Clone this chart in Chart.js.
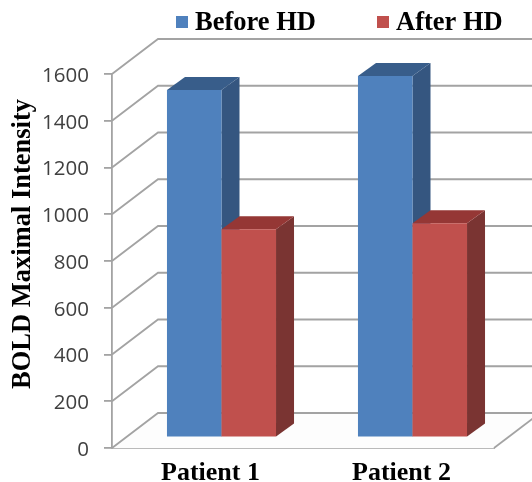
<!DOCTYPE html>
<html>
<head>
<meta charset="utf-8">
<title>BOLD Maximal Intensity</title>
<script src="https://cdn.jsdelivr.net/npm/chart.js@4"></script>
<style>
    html, body { margin: 0; padding: 0; background: #ffffff; }
    canvas { display: block; }
</style>
</head>
<body>
<canvas id="bold-chart" width="532" height="482"></canvas>
<script>
/* ---- data ---- */
const categories = ["Patient 1", "Patient 2"];
const beforeHD = [1487, 1547];
const afterHD = [891, 917];
const yTicks = [0, 200, 400, 600, 800, 1000, 1200, 1400, 1600];
const seriesNames = ["Before HD", "After HD"];
const yTitle = "BOLD Maximal Intensity";

/* ---- styles ---- */
const SERIF = "'Liberation Serif', serif";
const GRID = "#a3a3a3";
const blue = { front: "#4f81bd", side: "#355680", top: "#385d8a" };
const red = { front: "#c0504d", side: "#7a3432", top: "#953735" };
// depth of the back wall and of the bars, px
const WALL = { x: 46, y: -35 };
const BAR_SHIFT = { x: 14, y: -10.5 };
const BAR_DEPTH = { x: 18, y: -13 };

function poly(ctx, pts, fill) {
    ctx.beginPath();
    pts.forEach((p, i) => i ? ctx.lineTo(p[0], p[1]) : ctx.moveTo(p[0], p[1]));
    ctx.closePath();
    ctx.fillStyle = fill;
    ctx.fill();
}

/* back wall, floor and the slanted gridlines */
const wallPlugin = {
    id: "wall",
    beforeDatasetsDraw(chart) {
        const { ctx, scales: { y }, chartArea: area } = chart;
        const y0 = y.getPixelForValue(0);
        ctx.save();
        poly(ctx, [[area.left, y0], [area.right, y0], [area.right + WALL.x, y0 + WALL.y], [area.left + WALL.x, y0 + WALL.y]], "#fdfdfd");
        ctx.strokeStyle = GRID;
        ctx.lineWidth = 1.8;
        yTicks.forEach((v) => {
            const py = y.getPixelForValue(v);
            ctx.beginPath();
            ctx.moveTo(area.left, py);
            ctx.lineTo(area.left + WALL.x, py + WALL.y);
            ctx.lineTo(chart.width, py + WALL.y);
            ctx.stroke();
        });
        ctx.beginPath();
        ctx.moveTo(area.right, y0);
        ctx.lineTo(area.right + WALL.x, y0 + WALL.y);
        ctx.stroke();
        ctx.restore();
    }
};

/* Chart.js paints the first dataset last, here the red bars must overlap the blue sides.
   So skip the normal pass and paint the bars in dataset order, with top and side faces. */
const barsPlugin = {
    id: "bars3d",
    beforeDatasetDraw() {
        return false;
    },
    afterDatasetsDraw(chart) {
        const { ctx } = chart;
        ctx.save();
        ctx.translate(BAR_SHIFT.x, BAR_SHIFT.y);
        chart.data.datasets.forEach((ds, i) => {
            chart.getDatasetMeta(i).data.forEach((bar) => {
                const l = bar.x - bar.width / 2;
                const r = bar.x + bar.width / 2;
                const dx = BAR_DEPTH.x;
                const dy = BAR_DEPTH.y;
                poly(ctx, [[r, bar.y], [r + dx, bar.y + dy], [r + dx, bar.base + dy], [r, bar.base]], ds.faces.side);
                poly(ctx, [[l, bar.y], [l + dx, bar.y + dy], [r + dx, bar.y + dy], [r, bar.y]], ds.faces.top);
                bar.draw(ctx);
            });
        });
        ctx.restore();
    }
};

/* legend and rotated axis title sit off-centre in the original */
const textPlugin = {
    id: "texts",
    afterDraw(chart) {
        const { ctx } = chart;
        ctx.save();
        ctx.textBaseline = "middle";
        ctx.font = "bold 26.5px " + SERIF;
        ctx.textAlign = "left";
        [[176, blue.front], [377, red.front]].forEach((item, i) => {
            ctx.fillStyle = item[1];
            ctx.fillRect(item[0], 16, 12, 12);
            ctx.fillStyle = "#000000";
            ctx.fillText(seriesNames[i], item[0] + 19, 23);
        });
        ctx.translate(23, 244);
        ctx.rotate(-Math.PI / 2);
        ctx.textAlign = "center";
        ctx.font = "bold 26.5px " + SERIF;
        ctx.fillText(yTitle, 0, 0);
        ctx.restore();
    }
};

new Chart(document.getElementById("bold-chart"), {
    type: "bar",
    plugins: [wallPlugin, barsPlugin, textPlugin],
    data: {
        labels: categories,
        datasets: [
            { label: seriesNames[0], data: beforeHD, backgroundColor: blue.front, faces: blue },
            { label: seriesNames[1], data: afterHD, backgroundColor: red.front, faces: red }
        ]
    },
    options: {
        responsive: false,
        animation: false,
        layout: { padding: { top: 74, right: 38 } },
        datasets: { bar: { barPercentage: 1, categoryPercentage: 0.571, borderWidth: 0 } },
        plugins: { legend: { display: false }, tooltip: { enabled: false } },
        scales: {
            x: {
                grid: { display: false, drawTicks: false },
                border: { display: true, color: GRID, width: 1.8 },
                ticks: {
                    color: "#000000",
                    font: { family: SERIF, weight: "bold", size: 26 },
                    padding: 10,
                    labelOffset: 3,
                    maxRotation: 0
                },
                afterFit(scale) { scale.height = 34; }
            },
            y: {
                min: 0,
                max: 1600,
                grid: { drawOnChartArea: false, color: GRID, lineWidth: 1.8, tickLength: 8 },
                border: { display: true, color: GRID, width: 1.8 },
                ticks: {
                    color: "#404040",
                    font: { family: "'Open Sans', sans-serif", size: 20.5 },
                    padding: 15,
                    labelOffset: 2,
                    callback: (v) => String(v)
                },
                afterBuildTicks(scale) { scale.ticks = yTicks.map((v) => ({ value: v })); },
                afterFit(scale) { scale.width = 112; }
            }
        }
    }
});
</script>
</body>
</html>
